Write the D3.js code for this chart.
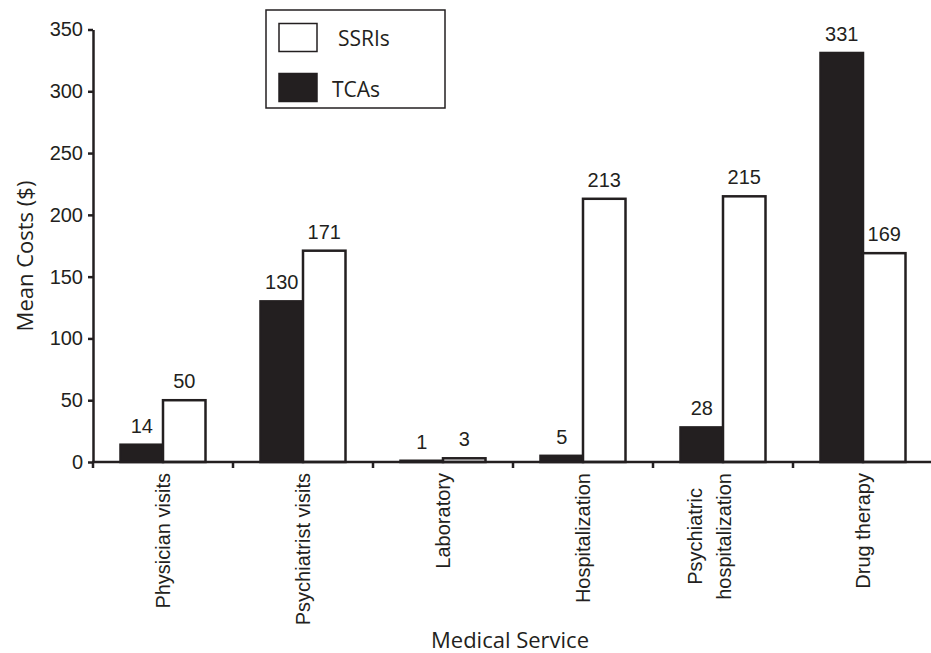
<!DOCTYPE html>
<html><head><meta charset="utf-8">
<script src="https://cdn.jsdelivr.net/npm/d3@7"></script>
<style>
body{margin:0;background:#fff;}
svg{display:block;}
</style></head>
<body>
<svg id="chart" width="931" height="653"></svg>
<script>
const categories = ["Physician visits", "Psychiatrist visits", "Laboratory", "Hospitalization", "Psychiatric\nhospitalization", "Drug therapy"];
const seriesNames = ["TCAs", "SSRIs"];
const tcaValues = [14, 130, 1, 5, 28, 331];
const ssriValues = [50, 171, 3, 213, 215, 169];
const yTicks = [0, 50, 100, 150, 200, 250, 300, 350];
const yTitle = "Mean Costs ($)";
const xTitle = "Medical Service";

const ink = "#231f20";
const sans = "Liberation Sans, Arial, sans-serif";
const human = "'Open Sans', Lato, sans-serif";
const fs = 20;
const svg = d3.select("#chart");
const x = d3.scaleBand().domain(categories).range([93, 933]).padding(0);
const x1 = d3.scaleBand().domain(seriesNames).range([27.5, 112.5]).padding(0);
const y = d3.scaleLinear().domain([0, 350]).range([462, 29.5]);

const data = categories.map((c, i) => ({cat: c, vals: [
  {s: "TCAs", v: tcaValues[i]}, {s: "SSRIs", v: ssriValues[i]}]}));

const fills = {TCAs: ink, SSRIs: "#fff"};

// bars
const g = svg.append("g");
const groups = g.selectAll("g.grp").data(data).join("g")
  .attr("transform", d => `translate(${x(d.cat)},0)`);
groups.selectAll("rect").data(d => d.vals).join("rect")
  .attr("x", d => x1(d.s))
  .attr("y", d => y(d.v))
  .attr("width", x1.bandwidth())
  .attr("height", d => y(0) - y(d.v))
  .attr("fill", d => fills[d.s])
  .attr("stroke", ink).attr("stroke-width", 2.5);
groups.selectAll("text").data(d => d.vals).join("text")
  .attr("x", d => x1(d.s) + x1.bandwidth() / 2)
  .attr("y", d => y(d.v) - 12)
  .attr("text-anchor", "middle")
  .attr("font-family", sans)
  .attr("font-size", fs).attr("fill", ink)
  .text(d => d.v);

// y axis
const yAxis = svg.append("g").attr("transform", "translate(93,0)")
  .call(d3.axisLeft(y).tickValues(yTicks).tickSize(5).tickPadding(5).tickSizeOuter(0));
yAxis.select(".domain").attr("stroke", ink).attr("stroke-width", 2.5);
yAxis.selectAll(".tick line").attr("stroke", ink).attr("stroke-width", 2.5);
yAxis.selectAll(".tick text").attr("font-family", sans)
  .attr("font-size", fs).attr("fill", ink);

// x axis
svg.append("line").attr("x1", 92).attr("x2", 931).attr("y1", y(0)).attr("y2", y(0))
  .attr("stroke", ink).attr("stroke-width", 2.5);
svg.selectAll("line.xtick").data(categories).join("line").attr("class", "xtick")
  .attr("x1", d => x(d)).attr("x2", d => x(d))
  .attr("y1", y(0)).attr("y2", y(0) + 6)
  .attr("stroke", ink).attr("stroke-width", 2.5);

// x labels
const labelTop = 473;
categories.forEach(c => {
  const cx = x(c) + x.bandwidth() / 2;
  const lines = c.split("\n");
  const t = svg.append("text")
    .attr("font-family", sans)
    .attr("font-size", fs).attr("fill", ink);
  if (lines.length === 1) {
    t.attr("transform", `translate(${cx + 7},${labelTop}) rotate(-90)`)
      .attr("text-anchor", "end").text(c);
  } else {
    const tmp = svg.append("text").attr("font-family", sans)
      .attr("font-size", fs).text(lines[1]);
    const w = tmp.node().getComputedTextLength();
    tmp.remove();
    t.attr("transform", `translate(${cx + 8},${labelTop + w / 2}) rotate(-90)`)
      .attr("text-anchor", "middle");
    t.append("tspan").attr("x", 0).attr("y", -29).text(lines[0]);
    t.append("tspan").attr("x", 0).attr("y", 0).text(lines[1]);
  }
});

// axis titles
svg.append("text")
  .attr("transform", "translate(33,256) rotate(-90)")
  .attr("text-anchor", "middle")
  .attr("font-family", human)
  .attr("font-size", 22).attr("fill", ink)
  .text(yTitle);
svg.append("text")
  .attr("x", 510).attr("y", 648)
  .attr("text-anchor", "middle")
  .attr("font-family", human)
  .attr("font-size", 22).attr("fill", ink)
  .text(xTitle);

// legend
const leg = svg.append("g");
leg.append("rect").attr("x", 266).attr("y", 10).attr("width", 179).attr("height", 98)
  .attr("fill", "#fff").attr("stroke", ink).attr("stroke-width", 1.5);
const legItems = ["SSRIs", "TCAs"];
leg.selectAll("rect.sw").data(legItems).join("rect").attr("class", "sw")
  .attr("x", 279).attr("y", (d, i) => 23.5 + i * 50)
  .attr("width", 38).attr("height", 28)
  .attr("fill", d => fills[d]).attr("stroke", ink).attr("stroke-width", 1.5);
leg.selectAll("text").data(legItems).join("text")
  .attr("x", (d, i) => i === 0 ? 338 : 332)
  .attr("y", (d, i) => 46 + i * 51)
  .attr("font-family", human)
  .attr("font-size", 21).attr("fill", ink)
  .text(d => d);
</script>
</body></html>
